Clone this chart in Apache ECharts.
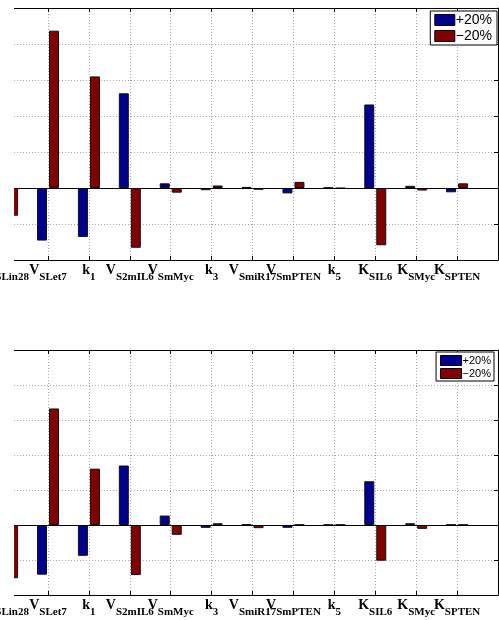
<!DOCTYPE html>
<html>
<head>
<meta charset="utf-8">
<script src="https://cdn.jsdelivr.net/npm/echarts@6/dist/echarts.min.js"></script>
<style>
  html, body { margin: 0; padding: 0; background: #fff; }
  #chart { width: 499px; height: 620px; }
</style>
</head>
<body>
<div id="chart"></div>
<script>
// Model parameters: symbol and subscript of each perturbed parameter
const paramSymbols = ['V', 'V', 'k', 'V', 'V', 'k', 'V', 'V', 'k', 'K', 'K', 'K'];
const paramSubscripts = ['SLin28', 'SLet7', '1', 'S2mIL6', 'SmMyc', '3', 'SmiR17', 'SmPTEN', '5', 'SIL6', 'SMyc', 'SPTEN'];

// Relative sensitivities, upper panel
const upperPlus  = [null, -1.46, -1.36, 2.63, 0.13, -0.06, 0.03, -0.15, 0.01, 2.32, 0.06, -0.12];
const upperMinus = [-0.77, 4.37, 3.10, -1.66, -0.13, 0.07, -0.05, 0.17, -0.01, -1.59, -0.07, 0.13];

// Relative sensitivities, lower panel
const lowerPlus  = [null, -1.42, -0.88, 1.70, 0.27, -0.08, 0.02, -0.08, 0.01, 1.25, 0.05, 0.01];
const lowerMinus = [-1.52, 3.33, 1.61, -1.43, -0.28, 0.05, -0.09, 0.01, 0.01, -1.02, -0.11, 0.01];

const seriesNames = ['+20%', '\u221220%'];
const yRange = [-2, 5];

const BLUE = '#00008f';
const RED = '#800000';

// Geometry: parameters sit at positions 1..n, the axes run to n+1
const n = paramSymbols.length;
const positions = paramSymbols.map((_, i) => i + 1);
const chartW = 499;
const rightGap = 1;
const firstPosX = 7.1;   // pixel x of position 1
const boxLeft = 14;      // visible left edge of the plot box
const unitPx = (chartW - rightGap - firstPosX) / n;
const xMinBox = 1 + (boxLeft - firstPosX) / unitPx;

const panels = [
  { top: 8, height: 252, plus: upperPlus, minus: upperMinus,
    legend: { right: 2, top: 11, fontSize: 14, itemWidth: 20, itemHeight: 11, itemGap: 2, padding: [2, 5, 2, 4] },
    mainFont: 14, subFont: 11, labelMargin: 3 },
  { top: 350, height: 245, plus: lowerPlus, minus: lowerMinus,
    legend: { right: 5, top: 352, fontSize: 11, itemWidth: 21, itemHeight: 10, itemGap: 2, padding: [3, 3, 2, 4] },
    mainFont: 14, subFont: 11, labelMargin: 3 }
];

const grids = [], xAxes = [], yAxes = [], series = [], legends = [], masks = [];
const dotted = { color: '#a8a8a8', width: 1, type: [1, 2] };

function toPairs(vals) {
  const out = [];
  vals.forEach((v, i) => { if (v !== null) out.push([positions[i], v]); });
  return out;
}

panels.forEach((p) => {
  const gMain = grids.length;
  grids.push({ left: boxLeft, right: rightGap, top: p.top, height: p.height,
               containLabel: false, outerBoundsMode: 'none' });
  // Grid that only carries the parameter names; it starts one step before position 1
  const gLabel = grids.length;
  grids.push({ left: firstPosX - unitPx, right: rightGap, top: p.top, height: p.height,
               containLabel: false, outerBoundsMode: 'none' });

  const xBottom = xAxes.length;
  xAxes.push({
    type: 'value', gridIndex: gMain, position: 'bottom', min: xMinBox, max: n + 1,
    axisLine: { show: true, onZero: false, lineStyle: { color: '#000', width: 1 } },
    axisTick: { show: true, inside: true, length: 4, customValues: positions, lineStyle: { color: '#000' } },
    axisLabel: { show: false },
    splitLine: { show: true, lineStyle: dotted }
  });
  xAxes.push({
    type: 'value', gridIndex: gMain, position: 'top', min: xMinBox, max: n + 1,
    axisLine: { show: true, onZero: false, lineStyle: { color: '#000', width: 1 } },
    axisTick: { show: true, inside: true, length: 4, customValues: positions, lineStyle: { color: '#000' } },
    axisLabel: { show: false },
    splitLine: { show: false }
  });
  xAxes.push({
    type: 'value', gridIndex: gLabel, position: 'bottom', min: 0, max: n + 1, interval: 1,
    axisLine: { show: false }, axisTick: { show: false }, splitLine: { show: false },
    axisLabel: {
      show: true, margin: p.labelMargin, showMinLabel: false, showMaxLabel: false, hideOverlap: false,
      formatter: (v) => {
        const i = Math.round(v) - 1;
        if (i < 0 || i >= n) return '';
        return '{m|' + paramSymbols[i] + '}{s|' + paramSubscripts[i] + '}';
      },
      rich: {
        m: { fontFamily: 'Liberation Serif', fontWeight: 'bold', fontSize: p.mainFont,
             lineHeight: 14, verticalAlign: 'top', color: '#000' },
        s: { fontFamily: 'Liberation Serif', fontWeight: 'bold', fontSize: p.subFont,
             lineHeight: 20, verticalAlign: 'bottom', color: '#000' }
      }
    }
  });

  const yLeft = yAxes.length;
  yAxes.push({
    type: 'value', gridIndex: gMain, position: 'left', min: yRange[0], max: yRange[1], interval: 1,
    axisLine: { show: false }, axisTick: { show: false }, axisLabel: { show: false },
    splitLine: { show: true, lineStyle: dotted }
  });
  yAxes.push({
    type: 'value', gridIndex: gMain, position: 'right', min: yRange[0], max: yRange[1], interval: 1,
    axisLine: { show: true, onZero: false, lineStyle: { color: '#000', width: 1 } },
    axisTick: { show: true, inside: true, length: 4, lineStyle: { color: '#000' } },
    axisLabel: { show: false }, splitLine: { show: false }
  });
  yAxes.push({
    type: 'value', gridIndex: gLabel, min: yRange[0], max: yRange[1], show: false
  });

  const barCommon = {
    type: 'bar', xAxisIndex: xBottom, yAxisIndex: yLeft,
    barWidth: 10, barGap: '20%', clip: true, silent: true
  };
  series.push(Object.assign({}, barCommon, {
    name: seriesNames[0], data: toPairs(p.plus),
    itemStyle: { color: BLUE, borderColor: '#111', borderWidth: 1 },
    markLine: {
      silent: true, symbol: 'none', label: { show: false },
      lineStyle: { color: '#000', width: 1, type: 'solid' },
      data: [{ yAxis: 0 }]
    }
  }));
  series.push(Object.assign({}, barCommon, {
    name: seriesNames[1], data: toPairs(p.minus),
    itemStyle: { color: RED, borderColor: '#111', borderWidth: 1 }
  }));

  // Bars on a value axis are not cut at the box edge, so blank the strip left of the box
  masks.push({
    type: 'rect', left: 0, top: p.top - 1, z: 100, silent: true,
    shape: { width: boxLeft, height: p.height + 2 },
    style: { fill: '#fff' }
  });

  legends.push({
    data: seriesNames, orient: 'vertical', right: p.legend.right, top: p.legend.top,
    icon: 'rect', itemWidth: p.legend.itemWidth, itemHeight: p.legend.itemHeight,
    itemGap: p.legend.itemGap, padding: p.legend.padding,
    backgroundColor: '#fff', borderColor: '#000', borderWidth: 1,
    selectedMode: false,
    itemStyle: { borderColor: '#000', borderWidth: 1 },
    textStyle: { fontFamily: 'Liberation Sans', fontSize: p.legend.fontSize, color: '#000',
                 padding: [0, 0, 0, -4] }
  });
});

const chart = echarts.init(document.getElementById('chart'), null, { renderer: 'canvas' });
chart.setOption({
  animation: false,
  backgroundColor: '#fff',
  grid: grids,
  xAxis: xAxes,
  yAxis: yAxes,
  legend: legends,
  graphic: masks,
  series: series
});
</script>
</body>
</html>
